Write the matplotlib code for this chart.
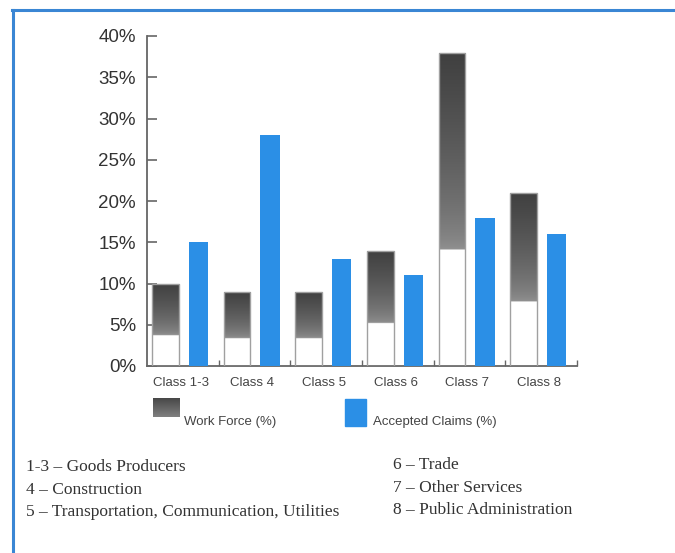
import numpy as np
import matplotlib
matplotlib.use("Agg")
import matplotlib.pyplot as plt
from matplotlib.lines import Line2D
from matplotlib.patches import Rectangle

categories = ["Class 1-3", "Class 4", "Class 5", "Class 6", "Class 7", "Class 8"]
work_force = [10, 9, 9, 14, 38, 21]
accepted_claims = [15, 28, 13, 11, 18, 16]
yticks = [0, 5, 10, 15, 20, 25, 30, 35, 40]
series_names = ["Work Force (%)", "Accepted Claims (%)"]
notes_left = ["1-3 \u2013 Goods Producers", "4 \u2013 Construction",
              "5 \u2013 Transportation, Communication, Utilities"]
notes_right = ["6 \u2013 Trade", "7 \u2013 Other Services", "8 \u2013 Public Administration"]

BLUE = "#2b8fe6"
SANS = ["Liberation Sans", "DejaVu Sans"]
SERIF = ["Liberation Serif", "DejaVu Serif"]

W, H = 675, 553
fig = plt.figure(figsize=(W / 100, H / 100), dpi=100)
fig.patch.set_facecolor("white")

def fx(px):
    return px / W

def fy(py):
    return 1 - py / H

ax = fig.add_axes([fx(147), fy(366), fx(577) - fx(147), fy(36) - fy(366)])

# gradient for work-force bars: white bottom, gray -> dark top
grad = np.linspace(0, 1, 256)
cols = np.zeros((256, 3))
for k, f in enumerate(grad):
    if f < 0.37:
        cols[k] = [1, 1, 1]
    else:
        t = (f - 0.37) / 0.63
        g = 0.58 - 0.33 * t ** 0.6
        cols[k] = [g, g, g]
img = cols[::-1].reshape(256, 1, 3)

x = np.arange(len(categories))
dark_c = x + 0.255
blue_c = x + 0.715
dw, bw = 0.37, 0.27

bars_dark = ax.bar(dark_c, work_force, width=dw, color="none",
                   edgecolor="#a0a0a0", linewidth=1.0, zorder=3)
for b in bars_dark:
    x0, h = b.get_x(), b.get_height()
    im = ax.imshow(img, extent=(x0, x0 + b.get_width(), 0, h),
                   aspect="auto", zorder=2, interpolation="bilinear")
    im.set_clip_path(b)
ax.bar(blue_c, accepted_claims, width=bw, color=BLUE, edgecolor="none", zorder=3)

ax.set_xlim(0, 6)
ax.set_ylim(0, 40)
ax.set_yticks(yticks)
ax.set_yticklabels([f"{v}%" for v in yticks], fontsize=13.5, color="#333333",
                   family=SANS)
ax.set_xticks(np.arange(1, 7))
ax.set_xticklabels([])
ax.tick_params(axis="y", direction="in", length=7, width=1.2, color="#666666", pad=8)
ax.tick_params(axis="x", direction="in", length=4, width=1.0, color="#666666")
for s in ["top", "right"]:
    ax.spines[s].set_visible(False)
ax.spines["left"].set_color("#666666")
ax.spines["left"].set_linewidth(1.3)
ax.spines["bottom"].set_color("#666666")
ax.spines["bottom"].set_linewidth(1.3)

for i, c in enumerate(categories):
    ax.text(i + 0.47, -2.0, c, ha="center", va="center", fontsize=9.5,
            color="#444444", family=SANS, transform=ax.transData)

# legend
lax = fig.add_axes([fx(153), fy(417), fx(180) - fx(153), fy(398) - fy(417)])
lax.imshow(np.linspace(0.28, 0.5, 64).reshape(-1, 1, 1) * np.ones((1, 1, 3)),
           aspect="auto", extent=(0, 1, 0, 1))
lax.set_axis_off()
fig.patches.append(Rectangle((fx(345), fy(426)), fx(366) - fx(345), fy(399) - fy(426),
                             transform=fig.transFigure, color=BLUE))
fig.text(fx(184), fy(422), series_names[0], ha="left", va="center", fontsize=9.5,
         color="#444444", family=SANS)
fig.text(fx(373), fy(422), series_names[1], ha="left", va="center", fontsize=9.5,
         color="#444444", family=SANS)

# footnotes
rows_l = [467, 490, 512]
rows_r = [465, 488, 510]
for t, yy in zip(notes_left, rows_l):
    fig.text(fx(26), fy(yy), t, ha="left", va="center", fontsize=12.5,
             color="#333333", family=SERIF)
for t, yy in zip(notes_right, rows_r):
    fig.text(fx(393), fy(yy), t, ha="left", va="center", fontsize=12.5,
             color="#333333", family=SERIF)

# blue frame
fig.add_artist(Line2D([fx(12), 1], [fy(10), fy(10)], transform=fig.transFigure,
                      color="#3a86d4", linewidth=2.2))
fig.add_artist(Line2D([fx(13), fx(13)], [fy(10), 0], transform=fig.transFigure,
                      color="#3a86d4", linewidth=2.2))

fig.savefig("out.png", dpi=100)
